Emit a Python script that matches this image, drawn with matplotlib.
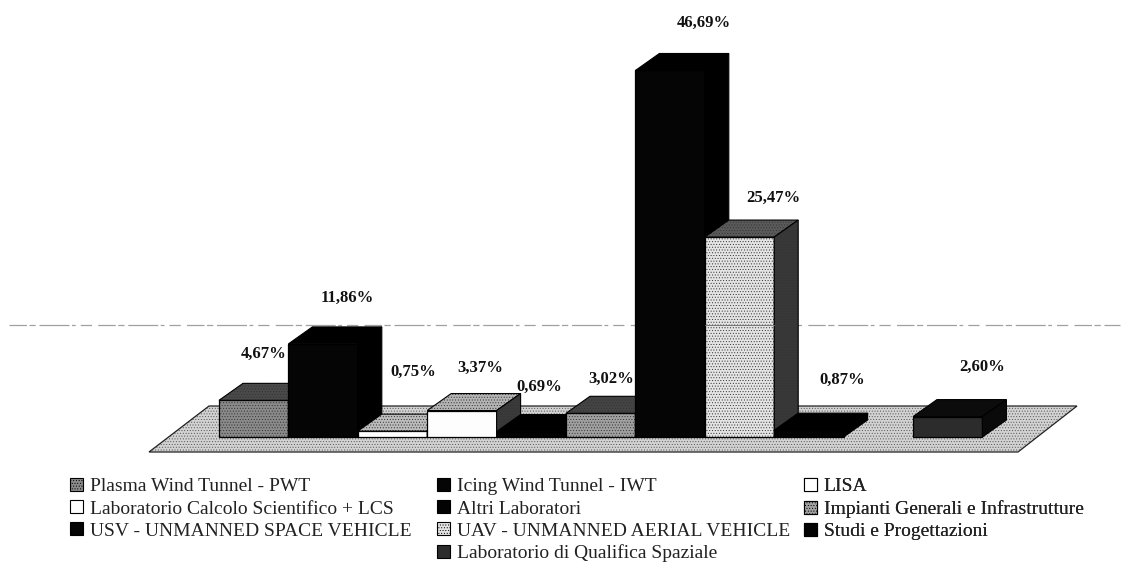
import matplotlib
matplotlib.use("Agg")
import matplotlib.pyplot as plt
from matplotlib.patches import Polygon, Patch

plt.rcParams["font.family"] = ["Liberation Serif", "DejaVu Serif"]
plt.rcParams["hatch.linewidth"] = 0.4

names = ["Plasma Wind Tunnel - PWT", "Icing Wind Tunnel - IWT", "LISA",
         "Laboratorio Calcolo Scientifico + LCS", "Altri Laboratori",
         "Impianti Generali e Infrastrutture", "USV - UNMANNED SPACE VEHICLE",
         "UAV - UNMANNED AERIAL VEHICLE", "Studi e Progettazioni",
         "Laboratorio di Qualifica Spaziale"]
values = [4.67, 11.86, 0.75, 3.37, 0.69, 3.02, 46.69, 25.47, 0.87, 2.60]
value_labels = ["4,67%", "11,86%", "0,75%", "3,37%", "0,69%",
                "3,02%", "46,69%", "25,47%", "0,87%", "2,60%"]
slots = [0, 1, 2, 3, 4, 5, 6, 7, 8, 10]

front_col = ["#8a8a8a", "#050505", "#ffffff", "#fdfdfd", "#030303",
             "#a0a0a0", "#050505", "#e4e4e4", "#030303", "#2c2c2c"]
top_col = ["#4a4a4a", "#000000", "#bcbcbc", "#b4b4b4", "#000000",
           "#444444", "#000000", "#5a5a5a", "#000000", "#0c0c0c"]
side_col = ["#333333", "#000000", "#999999", "#3a3a3a", "#000000",
            "#333333", "#000000", "#383838", "#000000", "#0a0a0a"]
# label offset from the bar's top centre, in pixels
label_dx = [10, 24, 21, 18, 8, 10, 34, 34, 33, 34]
label_dy = [46, 46, 59, 43, 45, 34, 48, 39, 50, 50]

W, H = 1127, 563
px_x = 69.4    # pixels per slot
px_y = 7.85    # pixels per percent
x0, y0 = 219, 437  # pixel of slot 0 left edge / bar base
dep_x = 24 / px_x
dep_y = 17 / px_y

fig = plt.figure(figsize=(W / 100, H / 100), dpi=100)
ax = fig.add_axes([0, 0, 1, 1])
ax.set_xlim(-x0 / px_x, (W - x0) / px_x)
ax.set_ylim(-(H - y0) / px_y, y0 / px_y)
ax.axis("off")


def sx(p):
    return (p - x0) / px_x


def sy(p):
    return (y0 - p) / px_y


def dotted(col):
    # mid greys were halftoned in the scan
    g = int(col[1:3], 16) / 255
    return "......" if 0.2 < g < 0.9 else None


def face(pts, col, z):
    ax.add_patch(Polygon(pts, closed=True, facecolor=col, edgecolor="#333333", lw=0,
                         hatch=dotted(col), zorder=z))
    ax.add_patch(Polygon(pts, closed=True, fill=False, edgecolor="black", lw=0.8, zorder=z))


# back wall line
grid_y = sy(325)
dash = (0, (14, 2, 5, 3, 24, 2, 3, 4, 9, 5))
ax.plot([sx(9), sx(1120)], [grid_y, grid_y], color="#a0a0a0", lw=0.9, ls=dash, zorder=0)

# floor
floor = [(sx(149), sy(452)), (sx(209), sy(406)), (sx(1077), sy(406)), (sx(1018), sy(452))]
ax.add_patch(Polygon(floor, closed=True, facecolor="#d2d2d2", edgecolor="#555555", lw=0,
                     hatch="......", zorder=1))
ax.add_patch(Polygon(floor, closed=True, fill=False, edgecolor="#222222", lw=0.9, zorder=1))

z = 2
for s, v, fc, tc, sc in zip(slots, values, front_col, top_col, side_col):
    ax.bar(s, v, width=1, align="edge", color=fc, edgecolor="#333333", lw=0,
           hatch=dotted(fc), zorder=z)
    ax.bar(s, v, width=1, align="edge", fill=False, edgecolor="black", lw=0.9, zorder=z)
    top = [(s, v), (s + dep_x, v + dep_y), (s + 1 + dep_x, v + dep_y), (s + 1, v)]
    side = [(s + 1, 0), (s + 1, v), (s + 1 + dep_x, v + dep_y), (s + 1 + dep_x, dep_y)]
    face(top, tc, z)
    face(side, sc, z)
    z += 1

# the wall line shows through the UAV front face
ax.plot([7, 8], [grid_y, grid_y], color="#777777", lw=0.7, zorder=z)

for s, v, t, dx, dy in zip(slots, values, value_labels, label_dx, label_dy):
    ax.annotate(t, (s + 0.5, v), xytext=(dx, dy), textcoords="offset pixels",
                ha="center", va="center", fontsize=12, fontweight="bold",
                color="#111111", zorder=z + 1)

# legend, one block per column so each column sits where it does in the original
handles = [Patch(facecolor=fc, edgecolor="black", lw=0.8, hatch=dotted(fc)) for fc in front_col]
columns = [[0, 3, 6], [1, 4, 7, 9], [2, 5, 8]]
col_x = [70, 437, 804]
for idx, cx in zip(columns, col_x):
    leg = ax.legend([handles[i] for i in idx], [names[i] for i in idx], loc="upper left",
                    bbox_to_anchor=(cx / W, 1 - 478 / H), frameon=False, fontsize=14,
                    handlelength=0.67, handleheight=0.67, handletextpad=0.34,
                    labelspacing=0.24, borderpad=0, borderaxespad=0,
                    labelcolor="#222222")
    ax.add_artist(leg)

fig.savefig("out.png", dpi=100)
